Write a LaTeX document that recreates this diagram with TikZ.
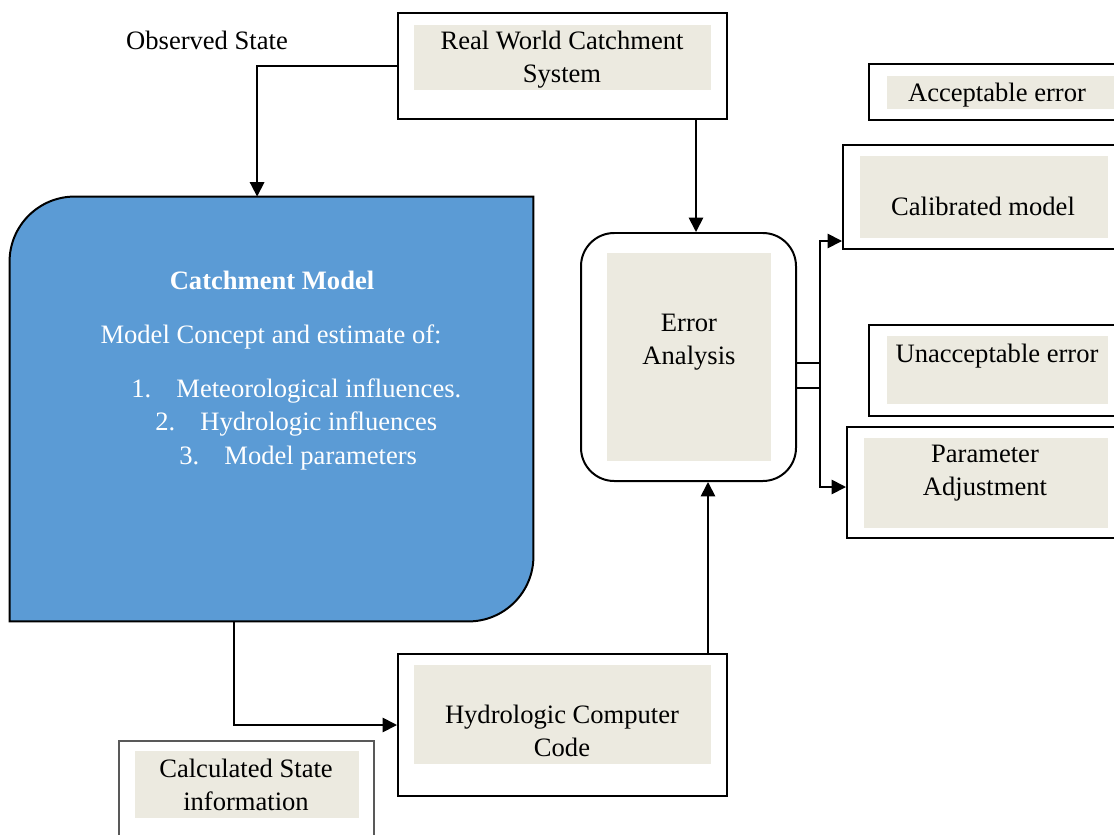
\documentclass[tikz,border=0pt]{standalone}
\usepackage{fontspec}
\setmainfont{Liberation Serif}
\usetikzlibrary{arrows.meta,fit}
\definecolor{modelblue}{RGB}{91,155,213}
\definecolor{paper}{RGB}{236,234,224}

\begin{document}
\begin{tikzpicture}[x=0.01587cm,y=-0.01587cm,
  font=\fontsize{12pt}{15pt}\selectfont,
  >={Triangle[length=6.5pt,width=6.5pt]},
  box/.style={draw,line width=0.9pt,inner sep=0pt,fit={#1}},
  paperbox/.style={fill=paper,inner sep=0pt,fit={#1}},
  line/.style={line width=0.8pt}]
  \useasboundingbox (0,0) rectangle (1114,835);
  % 实际流域系统
  \node[box={(398,13)(727,119)}] (realbox) {};
  \node[paperbox={(414,25)(711,90)}] (realin) {};
  \node[align=center] (real) at (562,60) {Real World Catchment\\System};
  \node (obs) at (207,40) {Observed State};
  % 流域模型（左上、右下圆角）
  \node[inner sep=0pt,fit={(10,197)(533,621)}] (model) {};
  \draw[line width=0.9pt,fill=modelblue]
    ([yshift=-29.4pt]model.north west) arc(180:90:29.4pt)
    -- (model.north east) -- ([yshift=29.4pt]model.south east) arc(0:-90:29.4pt)
    -- (model.south west) -- cycle;
  \node[text=white] (mtitle) at (272,280) {\bfseries Catchment Model};
  \node[text=white] (mconcept) at (271,337) {Model Concept and estimate of:};
  \foreach \n/\x/\y/\t in {1/131/391/Meteorological influences.,
      2/155/424/Hydrologic influences,3/179/458/Model parameters}
    \node[text=white,anchor=west,inner sep=0pt] (item\n) at (\x,\y)
      {\makebox[20.3pt][l]{\n.}\t};
  % 误差分析
  \node[draw,line width=0.9pt,rounded corners=15pt,inner sep=0pt,
    fit={(581,233)(796,481)}] (err) {};
  \node[paperbox={(607,253)(771,461)}] (errin) {};
  \node[align=center] (errtxt) at (689,342) {Error\\Analysis};
  % 水文计算程序
  \node[box={(398,654)(727,796)}] (hydrobox) {};
  \node[paperbox={(414,665)(711,764)}] (hydroin) {};
  \node[align=center] (hydro) at (562,731) {Hydrologic Computer\\Code};
  % 计算状态
  \node[draw=black!65,line width=0.5pt,inner sep=0pt,
    fit={(119,741)(374,850)}] (calcbox) {};
  \node[paperbox={(135,751)(359,818)}] (calcin) {};
  \node[align=center] (calc) at (246,785) {Calculated State\\information};
  % 右侧各框
  \node[box={(869,64)(1130,120)}] (accbox) {};
  \node[paperbox={(887,76)(1120,109)}] (accin) {};
  \node (acc) at (997,95) {Acceptable error};
  \node[box={(843,145)(1130,249)}] (calibbox) {};
  \node[paperbox={(860,156)(1108,238)}] (calibin) {};
  \node (calib) at (983,206) {Calibrated model};
  \node[box={(869,325)(1130,416)}] (unaccbox) {};
  \node[paperbox={(887,336)(1108,404)}] (unaccin) {};
  \node (unacc) at (997,356) {Unacceptable error};
  \node[box={(847,427)(1130,538)}] (parambox) {};
  \node[paperbox={(864,438)(1108,528)}] (paramin) {};
  \node[align=center] (param) at (985,473) {Parameter\\Adjustment};
  % 连线
  \draw[line,->] (realbox.west) -| ([xshift=-6.5pt]model.north);
  \draw[line,->] (realbox.south -| 696,0) -- (err.north -| 696,0);
  \draw[line,->] (model.south -| 234,0) |- (hydrobox.west);
  \draw[line,->] (hydrobox.north -| 708,0) -- (err.south -| 708,0);
  \coordinate (branch) at (820,363);
  \draw[line] (err.east |- branch) -- (branch);
  \draw[line] (err.east |- 0,388) -- (branch |- 0,388);
  \draw[line,->] (branch) |- (calibbox.west |- 0,241);
  \draw[line,->] (branch) |- (parambox.west |- 0,487);
\end{tikzpicture}
\end{document}
